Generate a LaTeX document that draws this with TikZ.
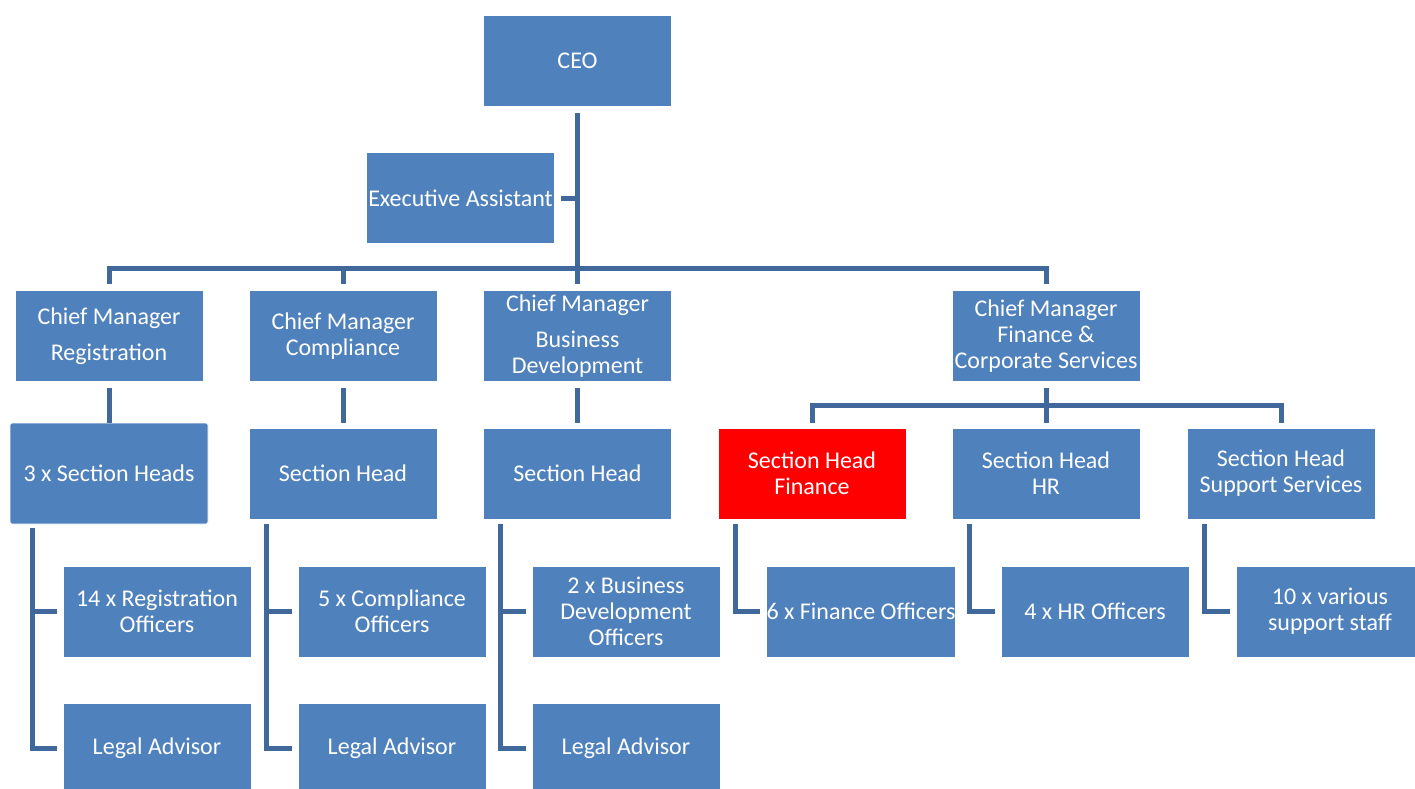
\documentclass[tikz,border=0pt]{standalone}
\usepackage{fontspec}
\setmainfont{Carlito}
\definecolor{boxblue}{RGB}{79,129,189}
\definecolor{lineblue}{RGB}{64,104,154}
\definecolor{hired}{RGB}{255,0,0}
\begin{document}
\begin{tikzpicture}[x=1pt,y=-1pt,
  box/.style={rectangle,fill=boxblue,draw=white,line width=0.8pt,text=white,
    minimum width=188pt,minimum height=91pt,inner sep=0pt,align=center,
    font=\fontsize{24}{26}\selectfont},
  conn/.style={draw=lineblue,line width=5pt}]
\useasboundingbox (0,0) rectangle (1415,788);
% level 0
\node[box] (ceo) at (577.5,61) {CEO};
\node[box] (ea) at (460.5,198) {Executive Assistant};
% level 1
\node[box] (cmr) at (109,336) {Chief Manager\\[10pt]Registration};
\node[box] (cmc) at (343,336) {Chief Manager\\Compliance};
\node[box] (cmb) at (577.5,336) {Chief Manager\\[10pt]Business\\Development};
\node[box] (cmf) at (1046,336) {Chief Manager\\Finance \&\\Corporate Services};
% level 2
\node[box,minimum width=198pt,minimum height=101pt,rounded corners=2pt] (shr) at (109,473.5) {3 x Section Heads};
\node[box] (shc) at (343,473.5) {Section Head};
\node[box] (shb) at (577.5,473.5) {Section Head};
\node[box,fill=hired] (shf) at (812,473.5) {Section Head\\Finance};
\node[box] (shh) at (1046,473.5) {Section Head\\HR};
\node[box] (shs) at (1281,473.5) {Section Head\\Support Services};
% level 3
\node[box] (ror) at (157,611.5) {14 x Registration\\Officers};
\node[box] (roc) at (392,611.5) {5 x Compliance\\Officers};
\node[box] (rob) at (626,611.5) {2 x Business\\Development\\Officers};
\node[box] (rof) at (861,611.5) {6 x Finance Officers};
\node[box] (roh) at (1095,611.5) {4 x HR Officers};
\node[box] (ros) at (1330,611.5) {10 x various\\support staff};
% level 4
\node[box] (lar) at (157,748.5) {Legal Advisor};
\node[box] (lac) at (392,748.5) {Legal Advisor};
\node[box] (lab) at (626,748.5) {Legal Advisor};
% buses
\coordinate (bus) at (0,268);
\coordinate (fbus) at (0,405);
% CEO trunk
\draw[conn] ([yshift=-6pt]ceo.south) -- ([yshift=6pt]cmb.north);
\draw[conn] ([xshift=6pt]ea.east) -- (ea.east -| ceo.south);
\draw[conn] ([yshift=6pt]cmr.north) -- (cmr.north |- bus) -- (cmf.north |- bus) -- ([yshift=6pt]cmf.north);
\draw[conn] ([yshift=6pt]cmc.north) -- (cmc.north |- bus);
% chief managers to section heads
\draw[conn] ([yshift=-6pt]cmr.south) -- (shr.north);
\draw[conn] ([yshift=-6pt]cmc.south) -- ([yshift=5pt]shc.north);
\draw[conn] ([yshift=-6pt]cmb.south) -- ([yshift=5pt]shb.north);
\draw[conn] ([yshift=-6pt]cmf.south) -- ([yshift=5pt]shh.north);
\draw[conn] ([yshift=5pt]shf.north) -- (shf.north |- fbus) -- (shs.north |- fbus) -- ([yshift=5pt]shs.north);
% section heads to officers
\coordinate (jr) at ([xshift=23pt,yshift=-4pt]shr.south west);
\draw[conn] (jr) |- ([xshift=-6pt]lar.west);
\draw[conn] (jr |- ror.west) -- ([xshift=-6pt]ror.west);
\coordinate (jc) at ([xshift=18pt,yshift=-5pt]shc.south west);
\draw[conn] (jc) |- ([xshift=-6pt]lac.west);
\draw[conn] (jc |- roc.west) -- ([xshift=-6pt]roc.west);
\coordinate (jb) at ([xshift=17pt,yshift=-5pt]shb.south west);
\draw[conn] (jb) |- ([xshift=-6pt]lab.west);
\draw[conn] (jb |- rob.west) -- ([xshift=-6pt]rob.west);
\coordinate (jf) at ([xshift=18pt,yshift=-5pt]shf.south west);
\draw[conn] (jf) |- ([xshift=-6pt]rof.west);
\coordinate (jh) at ([xshift=18pt,yshift=-5pt]shh.south west);
\draw[conn] (jh) |- ([xshift=-6pt]roh.west);
\coordinate (js) at ([xshift=18pt,yshift=-5pt]shs.south west);
\draw[conn] (js) |- ([xshift=-6pt]ros.west);
\end{tikzpicture}
\end{document}
